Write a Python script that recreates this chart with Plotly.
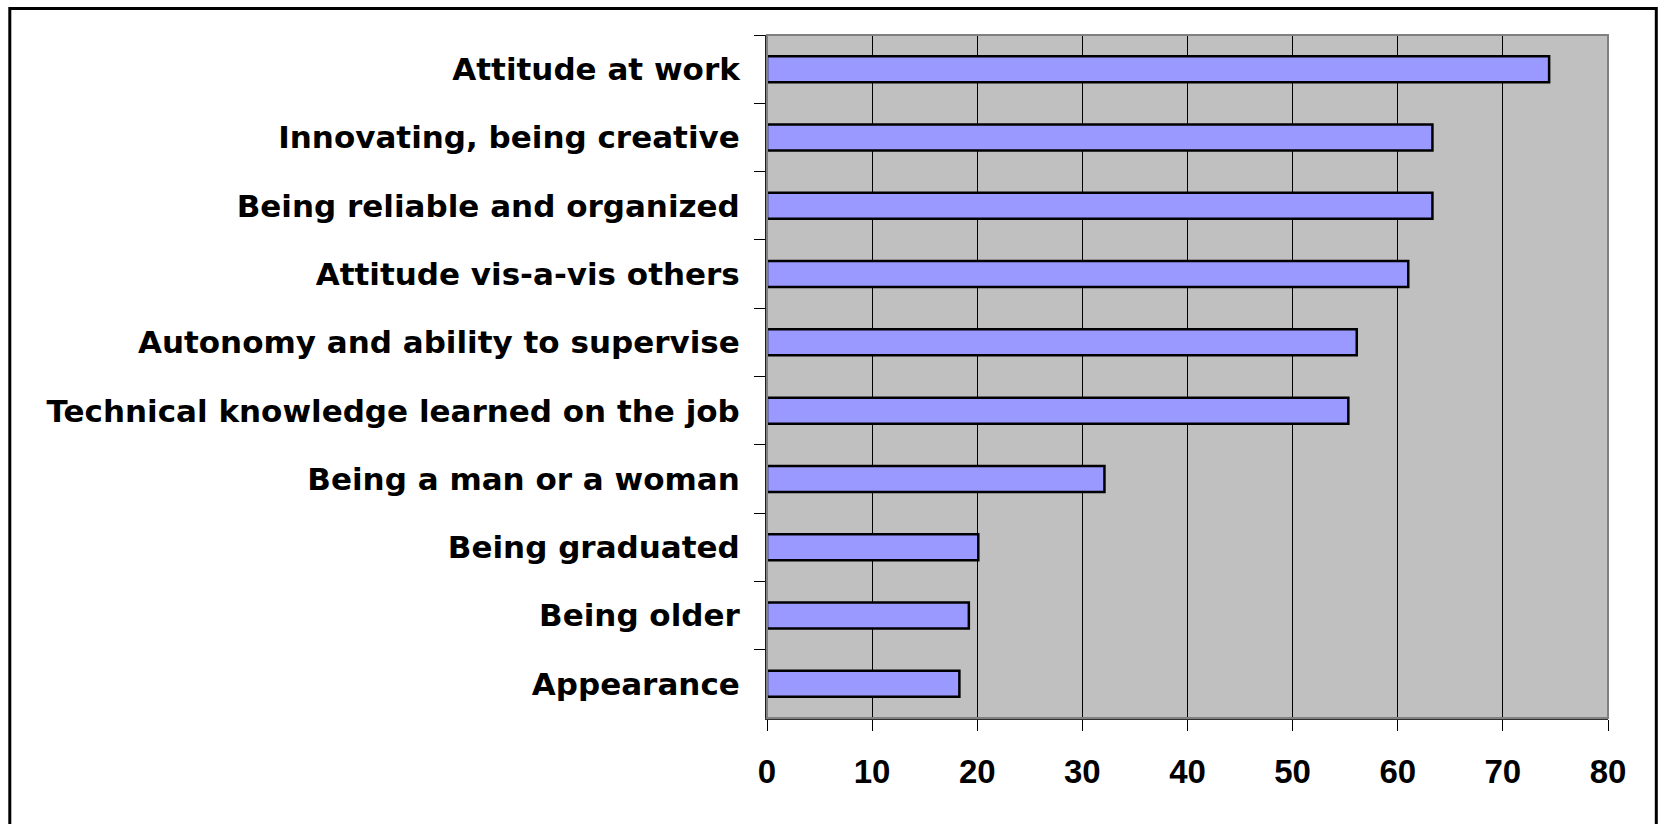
import plotly.graph_objects as go

# Survey items, listed top to bottom as they appear on the chart
factors = [
    "Attitude at work",
    "Innovating, being creative",
    "Being reliable and organized",
    "Attitude vis-a-vis others",
    "Autonomy and ability to supervise",
    "Technical knowledge learned on the job",
    "Being a man or a woman",
    "Being graduated",
    "Being older",
    "Appearance",
]
shares = [74.4, 63.3, 63.3, 61.0, 56.1, 55.3, 32.1, 20.1, 19.2, 18.3]
x_ticks = [0, 10, 20, 30, 40, 50, 60, 70, 80]

W, H = 1660, 824
L, R, T, B = 766.7, 1607.7, 35.0, 718.3  # plot area in pixels


def px_to_paper(x, y):
    return (x - L) / (R - L), (B - y) / (B - T)


fig = go.Figure(
    go.Bar(
        x=shares,
        y=factors,
        orientation="h",
        width=0.38,
        marker=dict(color="#9999FF", line=dict(color="#000000", width=2.5)),
        hoverinfo="x+y",
    )
)

fig.update_layout(
    width=W,
    height=H,
    margin=dict(l=L, r=W - R, t=T, b=H - B, pad=0),
    paper_bgcolor="#FFFFFF",
    plot_bgcolor="#C0C0C0",
    showlegend=False,
    font=dict(family="Liberation Sans, Arial, sans-serif", color="#000000"),
)

fig.update_xaxes(
    range=[0, 80],
    tickvals=x_ticks,
    ticktext=[str(v) for v in x_ticks],
    showgrid=True,
    gridcolor="#000000",
    gridwidth=1,
    zeroline=False,
    showline=True,
    linecolor="#303030",
    linewidth=2,
    ticks="outside",
    ticklen=11,
    tickwidth=1,
    tickcolor="#000000",
    tickfont=dict(size=33, family="Liberation Sans, Arial, sans-serif", weight="bold"),
    ticklabelstandoff=12,
    fixedrange=True,
)

fig.update_yaxes(
    categoryorder="array",
    categoryarray=factors,
    autorange="reversed",
    showgrid=False,
    zeroline=False,
    showline=True,
    linecolor="#202020",
    linewidth=2,
    ticks="outside",
    tickson="boundaries",
    ticklen=11,
    tickwidth=1,
    tickcolor="#000000",
    tickfont=dict(size=31, family="DejaVu Sans, sans-serif", weight="bold"),
    ticklabelstandoff=19,
    fixedrange=True,
)

# Grey frame around the plotting area
fig.add_shape(
    type="rect", xref="paper", yref="paper",
    x0=0, y0=0, x1=1, y1=1,
    line=dict(color="#808080", width=2),
    layer="above",
)

# Black outer border around the whole chart
bx0, by0 = px_to_paper(9.5, 8.5)
bx1, by1 = px_to_paper(1656.0, 834.0)
fig.add_shape(
    type="rect", xref="paper", yref="paper",
    x0=bx0, y0=by1, x1=bx1, y1=by0,
    line=dict(color="#000000", width=3),
    layer="above",
)

fig.write_html("out.html", config={"displayModeBar": False})
